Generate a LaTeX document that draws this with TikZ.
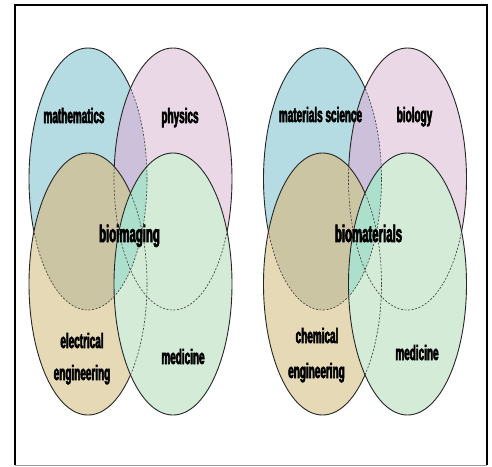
\documentclass[tikz,border=0pt]{standalone}
\usepackage{fontspec}
\newfontfamily\labfont[FakeStretch=0.475,FakeBold=2.6]{Liberation Sans}
\definecolor{cblue}{RGB}{180,220,226}
\definecolor{cpink}{RGB}{234,216,231}
\definecolor{cpurple}{RGB}{204,192,218}
\definecolor{ctan}{RGB}{230,218,182}
\definecolor{colive}{RGB}{204,197,163}
\definecolor{cgreen}{RGB}{212,235,216}
\definecolor{cteal}{RGB}{172,224,204}
\tikzset{
  solidline/.style={draw=black!85, line width=0.9pt},
  dashline/.style={draw=black!75, line width=0.65pt, dash pattern=on 2pt off 1.6pt},
  lab/.style={font=\labfont\bfseries\fontsize{21}{25}\selectfont, inner sep=0pt, anchor=base, text=black},
  clab/.style={lab, font=\labfont\bfseries\fontsize{24}{28}\selectfont},
}
\newcommand\drawvenn[1]{%
\begin{scope}[xshift=#1pt]
 \def\EA{(88,179) ellipse [x radius=59pt, y radius=131pt]}%
 \def\EB{(173,179) ellipse [x radius=59pt, y radius=131pt]}%
 \def\EC{(88,284) ellipse [x radius=59pt, y radius=131pt]}%
 \def\ED{(173,284) ellipse [x radius=59pt, y radius=131pt]}%
 \fill[cblue] \EA; \path[solidline] \EA;
 \fill[cpink] \EB;
 \begin{scope} \clip \EA; \fill[cpurple] \EB; \end{scope}
 \begin{scope} \clip \EB; \path[dashline] \EA; \end{scope}
 \path[solidline] \EB;
 \fill[ctan] \EC;
 \begin{scope} \clip \EA; \fill[colive] \EC; \end{scope}
 \begin{scope} \clip \EC; \path[dashline] \EA; \path[dashline] \EB; \end{scope}
 \path[solidline] \EC;
 \fill[cgreen] \ED;
 \begin{scope} \clip \EA; \fill[cteal] \ED; \end{scope}
 \begin{scope} \clip \ED; \path[dashline] \EA; \path[dashline] \EB; \path[dashline] \EC; \end{scope}
 \path[solidline] \ED;
\end{scope}}
\begin{document}
\begin{tikzpicture}[x=1pt,y=-1pt]
\useasboundingbox (0,0) rectangle (492,466);
\fill[white] (0,0) rectangle (492,466);
\fill[white] (15,5) rectangle (487,465);
\drawvenn{0}
\drawvenn{234.5}
\draw[black!40, line width=1pt] (15,465) -- (487,465);
\draw[black, line width=2.5pt] (15,465) -- (15,5) -- (487,5) -- (487,465);
% left labels
\node[lab] (math) at (74,123) {mathematics};
\node[lab] (phys) at (180,123) {physics};
\node[clab] (bioim) at (129.5,242) {bioimaging};
\node[lab] (elec1) at (82,348) {electrical};
\node[lab] (elec2) at (82,380) {engineering};
\node[lab] (med1) at (183,364) {medicine};
% right labels
\node[lab] (matsci) at (320.5,122) {materials science};
\node[lab] (bio) at (414.5,122) {biology};
\node[clab] (biomat) at (368.5,242) {biomaterials};
\node[lab] (chem1) at (317,343) {chemical};
\node[lab] (chem2) at (316.5,378) {engineering};
\node[lab] (med2) at (417,360) {medicine};
\end{tikzpicture}
\end{document}
